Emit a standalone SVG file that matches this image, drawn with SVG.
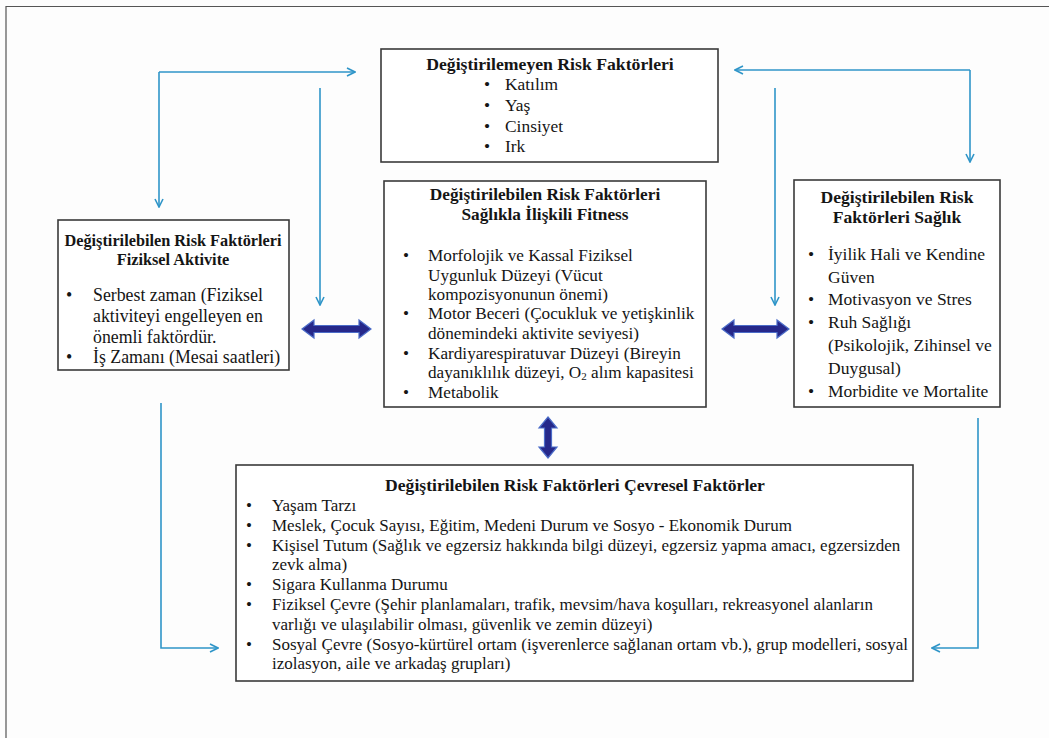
<svg xmlns="http://www.w3.org/2000/svg" width="1049" height="738" viewBox="0 0 1049 738" font-family="'Liberation Serif', Tinos, 'Times New Roman', serif">
<defs>
<style>
text{font-family:'Liberation Serif', Tinos, 'Times New Roman', serif;font-size:17px;fill:#151515}
.t{font-weight:bold;text-anchor:middle}
.box{fill:#fff;stroke:#3a3a3a;stroke-width:1.6}
.con{fill:none;stroke:#2f95c8;stroke-width:1.6}
.dbl{fill:#26288a;stroke:#4b6cc8;stroke-width:1.2}
#node-top text{font-size:17.4px}
#node-top .t{font-size:17.7px}
#node-left text{font-size:17.8px}
#node-left .t{font-size:16.3px}
#node-middle text{font-size:17.2px}
#node-middle .t{font-size:17.3px}
#node-right text{font-size:17.5px}
#node-right .t{font-size:17.6px}
#node-bottom .t{font-size:17.6px}
</style>
<marker id="ah" viewBox="0 0 10 10" refX="9" refY="5" markerWidth="10" markerHeight="10" markerUnits="userSpaceOnUse" orient="auto">
<path d="M1,1 L9,5 L1,9" fill="none" stroke="#2f95c8" stroke-width="1.6"/>
</marker>
</defs>
<rect width="1049" height="738" fill="#fdfdfd"/>
<path d="M6,738 V6.5 H1049" fill="none" stroke="#555" stroke-width="1.2"/>

<g id="connectors">
<path class="con" d="M159,72 H355" marker-end="url(#ah)"/>
<path class="con" d="M159,72 V207" marker-end="url(#ah)"/>
<path class="con" d="M320,88 V305" marker-end="url(#ah)"/>
<path class="con" d="M970,70 H735" marker-end="url(#ah)"/>
<path class="con" d="M970,70 V162" marker-end="url(#ah)"/>
<path class="con" d="M775,88 V305" marker-end="url(#ah)"/>
<path class="con" d="M161,403 V648 H218" marker-end="url(#ah)"/>
<path class="con" d="M978,418 V648 H932" marker-end="url(#ah)"/>
<polygon class="dbl" points="302,329 314,320 314,325.5 359,325.5 359,320 371,329 359,338 359,332.5 314,332.5 314,338"/>
<polygon class="dbl" points="722,329 734,320 734,325.5 777,325.5 777,320 789,329 777,338 777,332.5 734,332.5 734,338"/>
<polygon class="dbl" points="548,417 557,428 551.5,428 551.5,447 557,447 548,458 539,447 544.5,447 544.5,428 539,428"/>
</g>

<g id="node-top">
<rect class="box" x="381" y="49" width="337" height="113"/>
<text class="t" x="550" y="70">Değiştirilemeyen Risk Faktörleri</text>
<text x="484" y="90">•</text><text x="505" y="90">Katılım</text>
<text x="484" y="111">•</text><text x="505" y="111">Yaş</text>
<text x="484" y="132">•</text><text x="505" y="132">Cinsiyet</text>
<text x="484" y="152">•</text><text x="505" y="152">Irk</text>
</g>

<g id="node-left">
<rect class="box" x="58" y="220" width="231" height="150"/>
<text class="t" x="173" y="246">Değiştirilebilen Risk Faktörleri</text>
<text class="t" x="173" y="265">Fiziksel Aktivite</text>
<text x="66" y="301">•</text><text x="93" y="301">Serbest zaman (Fiziksel</text>
<text x="93" y="322">aktiviteyi engelleyen en</text>
<text x="93" y="343">önemli faktördür.</text>
<text x="66" y="363">•</text><text x="93" y="363">İş Zamanı (Mesai saatleri)</text>
</g>

<g id="node-middle">
<rect class="box" x="384" y="181" width="322" height="226"/>
<text class="t" x="545" y="200">Değiştirilebilen Risk Faktörleri</text>
<text class="t" x="545" y="220">Sağlıkla İlişkili Fitness</text>
<text x="403" y="261">•</text><text x="428" y="261">Morfolojik ve Kassal Fiziksel</text>
<text x="428" y="281">Uygunluk Düzeyi (Vücut</text>
<text x="428" y="300">kompozisyonunun önemi)</text>
<text x="403" y="319">•</text><text x="428" y="319">Motor Beceri (Çocukluk ve yetişkinlik</text>
<text x="428" y="339">dönemindeki aktivite seviyesi)</text>
<text x="403" y="359">•</text><text x="428" y="359">Kardiyarespiratuvar Düzeyi (Bireyin</text>
<text x="428" y="378">dayanıklılık düzeyi, O<tspan font-size="11" dy="2">2</tspan><tspan dy="-2"> alım kapasitesi</tspan></text>
<text x="403" y="398">•</text><text x="428" y="398">Metabolik</text>
</g>

<g id="node-right">
<rect class="box" x="794" y="180" width="206" height="227"/>
<text class="t" x="897" y="203">Değiştirilebilen Risk</text>
<text class="t" x="897" y="223">Faktörleri Sağlık</text>
<text x="808" y="260">•</text><text x="828" y="260">İyilik Hali ve Kendine</text>
<text x="828" y="283">Güven</text>
<text x="808" y="305">•</text><text x="828" y="305">Motivasyon ve Stres</text>
<text x="808" y="328">•</text><text x="828" y="328">Ruh Sağlığı</text>
<text x="828" y="351">(Psikolojik, Zihinsel ve</text>
<text x="828" y="374">Duygusal)</text>
<text x="808" y="397">•</text><text x="828" y="397">Morbidite ve Mortalite</text>
</g>

<g id="node-bottom">
<rect class="box" x="236" y="465" width="677" height="216"/>
<text class="t" x="575" y="491">Değiştirilebilen Risk Faktörleri Çevresel Faktörler</text>
<text x="246" y="511">•</text><text x="272" y="511">Yaşam Tarzı</text>
<text x="246" y="531">•</text><text x="272" y="531">Meslek, Çocuk Sayısı, Eğitim, Medeni Durum ve Sosyo - Ekonomik Durum</text>
<text x="246" y="551">•</text><text x="272" y="551">Kişisel Tutum (Sağlık ve egzersiz hakkında bilgi düzeyi, egzersiz yapma amacı, egzersizden</text>
<text x="272" y="570">zevk alma)</text>
<text x="246" y="590">•</text><text x="272" y="590">Sigara Kullanma Durumu</text>
<text x="246" y="610">•</text><text x="272" y="610">Fiziksel Çevre (Şehir planlamaları, trafik, mevsim/hava koşulları, rekreasyonel alanların</text>
<text x="272" y="630">varlığı ve ulaşılabilir olması, güvenlik ve zemin düzeyi)</text>
<text x="246" y="650">•</text><text x="272" y="650">Sosyal Çevre (Sosyo-kürtürel ortam (işverenlerce sağlanan ortam vb.), grup modelleri, sosyal</text>
<text x="272" y="669">izolasyon, aile ve arkadaş grupları)</text>
</g>
</svg>
